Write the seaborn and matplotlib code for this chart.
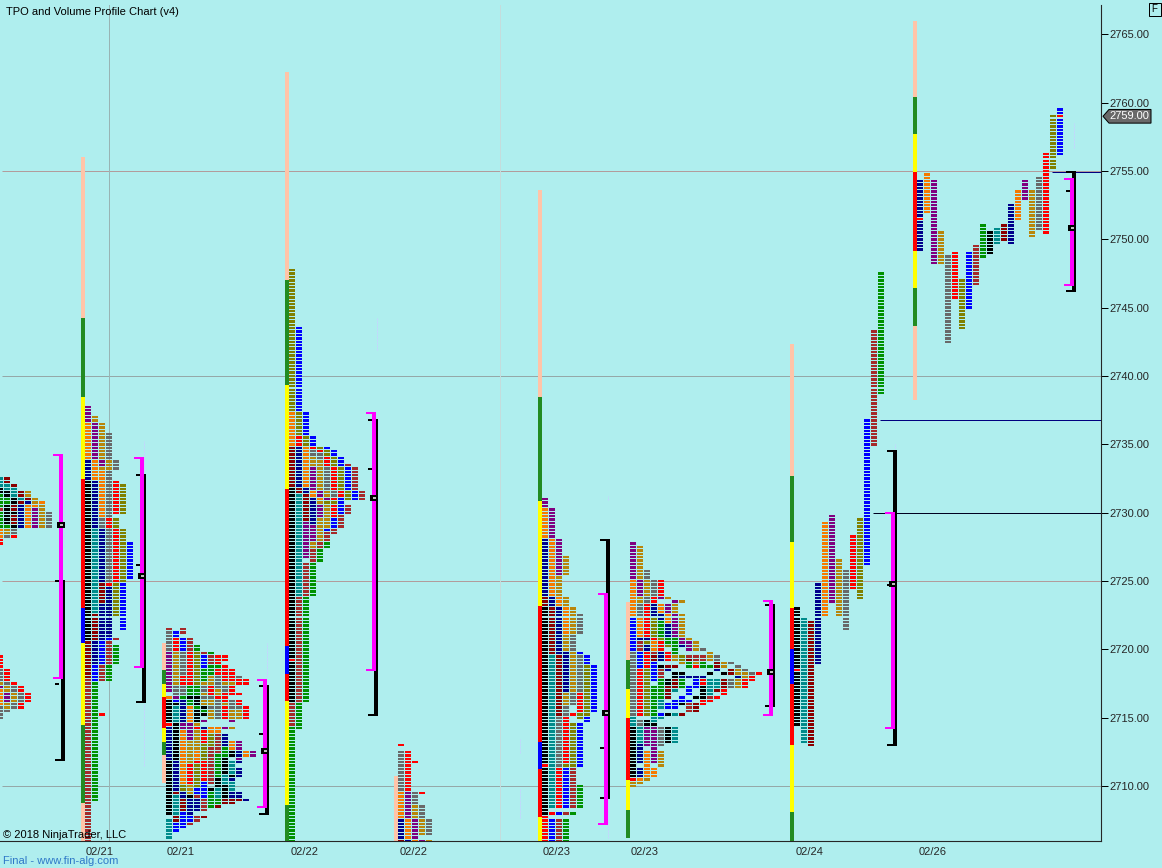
import numpy as np
import pandas as pd
import seaborn as sns
import matplotlib.pyplot as plt
from matplotlib.path import Path
from matplotlib.patches import Polygon, Rectangle

# Period letters -> colours
PERIOD_COLORS = {
    "k": "#000000", "t": "#008B8B", "m": "#8B0000", "n": "#00008B", "b": "#0000FF",
    "r": "#FF0000", "g": "#009100", "w": "#A52A2A", "o": "#808000", "a": "#F57A00",
    "p": "#800080", "d": "#B8860B", "y": "#696969",
}
BAR_COLORS = {"s": "#FFC4A8", "f": "#228B22", "l": "#FFFF00", "r": "#FF0000", "b": "#0000FF"}

# Each column is a list of (period, high, low) or (period, price)
PROFILE_A = [
    [("t", 2732.5, 2732), ("k", 2731.75, 2731.5), ("g", 2731.25, 2730.5), ("w", 2730.25), ("g", 2730, 2729), ("a", 2728.75, 2728.25), ("r", 2728, 2727.75)],
    [("m", 2732.5, 2732.25), ("t", 2732, 2731.75), ("k", 2731.5, 2731.25), ("g", 2731, 2730.75), ("k", 2730.5, 2729.25), ("g", 2729), ("d", 2728.75, 2728.5), ("y", 2728.25)],
    [("m", 2732), ("t", 2731.75, 2731.25), ("k", 2731, 2730.75), ("m", 2730.5, 2730.25), ("k", 2730), ("m", 2729.75, 2729.25), ("k", 2729), ("y", 2728.75, 2728.5), ("r", 2728.25)],
    [("m", 2731.5, 2731.25), ("t", 2731), ("m", 2730.75), ("n", 2730.5, 2729)],
    [("d", 2731.5, 2731.25), ("m", 2731), ("n", 2730.75), ("a", 2730.5, 2729)],
    [("d", 2731, 2730.75), ("a", 2730.5), ("p", 2730.25, 2729)],
    [("a", 2730.75), ("d", 2730.5, 2729)],
    [("y", 2730, 2729)],
]
PROFILE_A2 = [
    [("r", 2719.5, 2718.75), ("y", 2718.5, 2717.75), ("d", 2717.5), ("p", 2717.25), ("a", 2717, 2716), ("y", 2715.75, 2715)],
    [("r", 2718.5, 2717.75), ("y", 2717.5), ("d", 2717.25, 2717), ("p", 2716.75, 2716.25), ("d", 2716, 2715.75), ("y", 2715.5)],
    [("r", 2717.5), ("y", 2717.25, 2717), ("d", 2716.75, 2716.25), ("y", 2716, 2715.75)],
    [("r", 2717.25, 2717), ("y", 2716.75, 2716.25), ("r", 2716, 2715.75)],
    [("r", 2716.75, 2716.25)],
]
PROFILE_B = [
    [("p", 2737.75, 2736.75), ("a", 2736.5, 2734), ("n", 2733.75, 2732.5), ("k", 2732.25, 2720.75), ("m", 2720.5, 2718), ("w", 2717.75, 2706)],
    [("d", 2737, 2736.75), ("p", 2736.5, 2734), ("a", 2733.75, 2732.5), ("n", 2732.25, 2729), ("t", 2728.75, 2722.75), ("m", 2722.5, 2720.75), ("n", 2720.5, 2719), ("b", 2718.75, 2717.75), ("g", 2717.5, 2709)],
    [("d", 2736.5, 2734), ("p", 2733.75, 2733.5), ("d", 2733.25), ("a", 2733, 2729.75), ("y", 2729.5, 2729), ("n", 2728.75, 2725), ("m", 2724.75, 2723.5), ("n", 2723.25, 2720.75), ("b", 2720.5, 2719), ("w", 2718.75, 2717.75), ("r", 2715.25)],
    [("y", 2735.75, 2734), ("d", 2733.75, 2733.25), ("y", 2733, 2729.75), ("r", 2729.5, 2729), ("y", 2728.75, 2725), ("r", 2724.75), ("n", 2724.5, 2721), ("b", 2720.75), ("w", 2720.5, 2719), ("g", 2718.75, 2717.75)],
    [("y", 2733.75, 2733.25), ("r", 2732.25, 2730), ("o", 2729.5, 2729), ("r", 2728.75, 2725), ("o", 2724.75, 2722.5), ("w", 2720.75), ("g", 2720.25, 2719)],
    [("o", 2732, 2730), ("o", 2728.75, 2725), ("b", 2724.75, 2721.5)],
    [("b", 2727.75, 2725.25)],
]
PROFILE_C = [
    [("w", 2721.5), ("y", 2721.25, 2720), ("p", 2719.75, 2717), ("a", 2716.5), ("k", 2716.25, 2714.75), ("r", 2714.5), ("n", 2714.25, 2712), ("k", 2711.75, 2708), ("t", 2707.5, 2706.25)],
    [("b", 2721.25, 2721), ("r", 2720.75, 2720), ("d", 2719.75, 2717.5), ("y", 2717.25, 2716.75), ("p", 2716.5), ("b", 2716.25), ("k", 2716), ("t", 2715.75, 2714.75), ("k", 2714.5, 2712), ("n", 2711.75, 2709.75), ("m", 2709.5), ("t", 2709.25, 2708), ("m", 2707.75, 2707.5), ("b", 2707.25, 2706.75)],
    [("w", 2721.5, 2721.25), ("b", 2720.75, 2720), ("y", 2719.75, 2718.25), ("r", 2718, 2717.5), ("y", 2717.25, 2716.75), ("g", 2716.5), ("n", 2716.25, 2714.75), ("p", 2714.5, 2714.25), ("a", 2714, 2712), ("a", 2711.75, 2710.25), ("o", 2710, 2709.75), ("n", 2709.5, 2709.25), ("m", 2709, 2708.25), ("b", 2708, 2707)],
    [("w", 2720.75, 2720), ("r", 2719.75, 2717.5), ("g", 2717.25, 2716.75), ("k", 2716.5), ("g", 2716.25, 2716), ("a", 2715.75, 2714.75), ("p", 2714.5, 2713.5), ("d", 2713.25, 2711.75), ("r", 2711.5, 2710.25), ("d", 2710, 2709.5), ("k", 2709.25), ("n", 2709, 2708), ("b", 2707.75, 2707.5), ("w", 2707.25)],
    [("g", 2720.25, 2720), ("o", 2719.75, 2717.5), ("g", 2717.25, 2716.75), ("k", 2716.5, 2716), ("g", 2715.75), ("k", 2715.5, 2714.75), ("d", 2714.5), ("r", 2714.25), ("d", 2714, 2712.75), ("a", 2712.5, 2712), ("r", 2711.75), ("o", 2711.5, 2710), ("b", 2709.75, 2709.5), ("w", 2709.25), ("n", 2709, 2708.25), ("w", 2707.75, 2707.5)],
    [("w", 2719.75), ("b", 2719.5, 2718.75), ("g", 2718.5, 2717.75), ("d", 2717.5), ("y", 2717.25, 2717), ("d", 2716.75), ("y", 2716.5), ("d", 2716.25, 2716), ("k", 2715.75), ("g", 2715.5), ("k", 2715.25), ("p", 2714.75), ("n", 2714.25), ("r", 2714, 2713.25), ("o", 2713, 2712), ("r", 2711.75, 2710.5), ("b", 2710.25, 2709.25), ("w", 2709, 2708.25), ("m", 2707.75)],
    [("g", 2719.75), ("w", 2719.5, 2719), ("g", 2718.75, 2718.25), ("d", 2718, 2717.5), ("r", 2717.25, 2716.75), ("y", 2716.5), ("d", 2716.25, 2716), ("y", 2715.75), ("d", 2715.5, 2715), ("a", 2714.25, 2714), ("o", 2713.75, 2713), ("w", 2712.75, 2712), ("w", 2711.75, 2710.25), ("k", 2709.75), ("g", 2709.5, 2708.5)],
    [("r", 2719.5, 2719), ("g", 2718.75), ("r", 2718.5, 2718.25), ("y", 2718, 2717.25), ("d", 2717, 2716.75), ("r", 2716.5), ("y", 2716.25, 2715), ("a", 2714.25, 2714), ("w", 2713.75, 2712.5), ("g", 2712.25, 2710.75), ("k", 2710.5, 2710), ("t", 2709.75, 2709.25), ("g", 2709, 2708.75), ("m", 2708.5)],
    [("r", 2719.5, 2719.25), ("r", 2718.75, 2717.75), ("d", 2717.5), ("y", 2717.25, 2717), ("r", 2716.75, 2716.25), ("d", 2716), ("r", 2715.75, 2715), ("p", 2714.25), ("n", 2713.75, 2713), ("g", 2712.75, 2712.25), ("k", 2712, 2711), ("t", 2710.75, 2710.25), ("k", 2710, 2709.25), ("m", 2709, 2708.75)],
    [("r", 2718.5, 2717.75), ("d", 2717.5), ("r", 2717.25, 2716.75), ("y", 2716.25, 2715.75), ("d", 2715.5, 2715), ("p", 2714.75), ("d", 2714.25), ("a", 2713.25, 2712.75), ("k", 2712.5, 2712.25), ("t", 2711.75, 2711), ("k", 2710.75), ("n", 2710.5), ("t", 2710.25, 2709.75), ("n", 2709.5, 2709.25), ("m", 2709, 2708.75)],
    [("y", 2718), ("r", 2717.75, 2717.5), ("r", 2716.75), ("r", 2716.25, 2716), ("y", 2715.75), ("d", 2715.5, 2715), ("p", 2713.25, 2712.75), ("n", 2712.5, 2712.25), ("p", 2712), ("n", 2711.75), ("n", 2711.25, 2710.75), ("n", 2709.5, 2709.25), ("m", 2709)],
    [("r", 2717.75, 2717.5), ("r", 2715.75, 2715), ("a", 2712.5, 2712.25), ("n", 2709)],
    [("p", 2712.5, 2712.25)],
]
PROFILE_D = [
    [("o", 2747.75, 2737.5), ("a", 2737.25, 2735), ("m", 2734.75, 2732), ("k", 2731.75, 2716.25), ("r", 2719.25), ("w", 2716, 2714.5), ("g", 2714.25, 2706)],
    [("b", 2743.5, 2737.5), ("o", 2737.25, 2735.75), ("r", 2735.5, 2735), ("n", 2734.75, 2732), ("m", 2731.75, 2731.5), ("t", 2731.25, 2724), ("w", 2723.75, 2716.25), ("g", 2716, 2714.25)],
    [("b", 2737.25, 2735.75), ("o", 2735.5, 2735), ("a", 2734.75, 2732), ("n", 2731.75, 2731.5), ("m", 2731.25, 2729.5), ("p", 2729.25, 2726.75), ("w", 2726.25, 2724), ("g", 2723.75, 2716.25)],
    [("b", 2735.5, 2735), ("r", 2734.75), ("y", 2734.5, 2734.25), ("d", 2734, 2733.5), ("p", 2733.25, 2731.75), ("a", 2731.5, 2731.25), ("n", 2731, 2729.25), ("p", 2729, 2728), ("d", 2727.75, 2727.5), ("w", 2727.25, 2726.5), ("g", 2726.25, 2724)],
    [("o", 2734.75), ("r", 2734.5), ("y", 2734.25, 2734), ("d", 2733.75, 2731.75), ("p", 2731.5, 2731.25), ("a", 2731), ("d", 2730.75), ("p", 2730.5, 2729.75), ("d", 2729.5, 2728), ("w", 2727.75, 2727.5), ("g", 2727.25, 2726.5)],
    [("b", 2734.75), ("o", 2734.5, 2734.25), ("r", 2734, 2733.5), ("y", 2733.25, 2731.75), ("d", 2731.5, 2731.25), ("p", 2731), ("o", 2730.75), ("d", 2730.5, 2729), ("b", 2728.75), ("w", 2728.5, 2728), ("g", 2727.75, 2727.5)],
    [("b", 2734.5, 2734.25), ("o", 2734, 2733.5), ("r", 2733.25, 2731.75), ("y", 2731.5, 2731.25), ("r", 2731), ("o", 2730.75), ("r", 2730.5, 2729.75), ("b", 2729.5, 2729), ("w", 2728.75, 2728.5)],
    [("b", 2734, 2733.5), ("o", 2733.25, 2731.75), ("r", 2731.5, 2731.25), ("b", 2731, 2730), ("w", 2729.75, 2729)],
    [("w", 2733.5), ("b", 2733.25, 2731.75), ("o", 2731.5, 2731), ("w", 2730.5, 2730)],
    [("w", 2733.25, 2731.75), ("b", 2731.5, 2731)],
    [("w", 2731.5, 2731)],
]
PROFILE_E = [
    [("r", 2713), ("y", 2712.5, 2709.75), ("a", 2709.5, 2707.75), ("n", 2707.5, 2706.25), ("m", 2706)],
    [("r", 2712.5, 2709.75), ("p", 2709.5, 2707.75), ("a", 2707.5, 2706.25), ("n", 2706)],
    [("r", 2711.75), ("y", 2709.5, 2708.75), ("d", 2708.5, 2707.75), ("p", 2707.5, 2706.25), ("a", 2706)],
    [("r", 2709.5), ("y", 2708.5, 2707.75), ("d", 2707.5, 2706.5), ("p", 2706)],
    [("y", 2707.5, 2706.5), ("d", 2706)],
]
PROFILE_F = [
    [("p", 2731, 2730.5), ("a", 2730.25, 2728.25), ("n", 2728, 2724), ("m", 2723.75, 2723.25), ("k", 2723, 2708), ("r", 2711.5), ("r", 2707.75, 2706)],
    [("p", 2730.25, 2728.25), ("a", 2728, 2724), ("n", 2723.75, 2723.25), ("m", 2723, 2719.75), ("t", 2719.5, 2708.5), ("r", 2708), ("b", 2707.5, 2706)],
    [("p", 2728, 2725.5), ("d", 2725.25, 2724), ("a", 2723.75, 2723.25), ("n", 2723, 2719.75), ("m", 2719.5, 2715.25), ("y", 2715, 2711.5), ("r", 2711.25, 2708.5), ("b", 2708), ("w", 2707.5, 2706)],
    [("d", 2726.75, 2725.5), ("d", 2723.75, 2723.25), ("a", 2723, 2721.25), ("d", 2721, 2720), ("n", 2719.75, 2717), ("d", 2716.75, 2716), ("y", 2715.75, 2715.25), ("r", 2715, 2711.75), ("o", 2711.5), ("b", 2711.25, 2708.5), ("w", 2708), ("g", 2707.5, 2706)],
    [("d", 2723, 2721.25), ("y", 2721, 2720), ("d", 2719.75, 2717), ("y", 2716.75, 2716), ("r", 2715.25), ("o", 2714.5, 2711.5), ("w", 2711.25, 2708.5), ("g", 2708)],
    [("y", 2722.5, 2721.25), ("b", 2719.75), ("y", 2719.5, 2717), ("r", 2716.75, 2715.5), ("o", 2715.25, 2715), ("b", 2714.5, 2711.5), ("g", 2710, 2708.5)],
    [("b", 2719.5, 2719), ("o", 2718.75, 2717), ("o", 2716.75, 2715.25), ("b", 2715, 2714.75)],
    [("b", 2718.75, 2717), ("b", 2716.75, 2715.5)],
]
PROFILE_G = [
    [("p", 2727.75, 2725.25), ("a", 2725, 2722.5), ("b", 2722.25, 2720), ("y", 2719.75, 2715.25), ("t", 2715, 2714.5), ("k", 2714.25, 2710.75), ("r", 2710.5), ("d", 2710.25, 2710)],
    [("d", 2727.5, 2725.25), ("p", 2725, 2724), ("d", 2723.75, 2723.5), ("y", 2723.25, 2722.5), ("a", 2722.25, 2721), ("n", 2720.75), ("w", 2720.5, 2720), ("b", 2719.75, 2718.75), ("r", 2718.5, 2715.25), ("y", 2714.75, 2714.5), ("t", 2714.25, 2713.25), ("n", 2713, 2711.75), ("n", 2711.25, 2710.75), ("a", 2710.5), ("d", 2710.25)],
    [("y", 2725.75, 2725.25), ("d", 2725, 2724), ("y", 2723.75, 2723.5), ("r", 2723.25, 2721), ("n", 2720.75), ("o", 2720.5), ("n", 2720.25, 2720), ("r", 2719.75, 2718.75), ("o", 2718.5, 2715.25), ("k", 2714.75, 2714.5), ("p", 2714.25, 2713), ("a", 2712.5, 2710.75), ("d", 2710.5)],
    [("y", 2725, 2724), ("r", 2723.75, 2723.5), ("n", 2723.25, 2722.5), ("o", 2722.25, 2721), ("r", 2720.75), ("a", 2720.5, 2720), ("w", 2719.75), ("m", 2719.5, 2719.25), ("b", 2719, 2717.75), ("g", 2717.25, 2715.25), ("t", 2715, 2714.75), ("k", 2714.5), ("p", 2714.25, 2711.75), ("a", 2711.25, 2710.75)],
    [("r", 2725, 2724), ("p", 2723.75), ("a", 2723.25, 2722.75), ("n", 2722.5, 2722.25), ("g", 2722, 2721), ("o", 2720.75), ("r", 2720.5, 2720), ("n", 2719.75, 2719.25), ("k", 2718.75), ("w", 2718.5, 2718), ("g", 2717.75, 2716.5), ("t", 2716.25, 2715.75), ("b", 2715.25), ("t", 2715), ("y", 2714.25, 2713), ("d", 2712.5, 2711.5)],
    [("d", 2723.75), ("p", 2723.25, 2722.75), ("a", 2722.5, 2722), ("n", 2721.75, 2721), ("g", 2720.75, 2720.5), ("o", 2720.25), ("r", 2719.75, 2719.25), ("m", 2718.75), ("n", 2718.5), ("k", 2717.75, 2717.5), ("m", 2717.25, 2716.5), ("b", 2716, 2715.75), ("k", 2715.25), ("k", 2714.25, 2713.25)],
    [("p", 2723.5), ("d", 2723.25, 2722.75), ("p", 2722.5, 2721), ("g", 2720.75, 2719.75), ("d", 2719.5, 2719.25), ("m", 2718.75), ("k", 2718.25, 2718), ("m", 2717.75, 2717.25), ("t", 2717), ("b", 2716.25, 2715.75), ("t", 2715.25), ("t", 2714.25, 2713.25)],
    [("d", 2723.5), ("d", 2722.5, 2721), ("p", 2720.75, 2720.5), ("n", 2720.25), ("o", 2719.5, 2719.25), ("d", 2719), ("k", 2718.25), ("n", 2718), ("g", 2717.75, 2717.25), ("b", 2716.5, 2716.25), ("k", 2716), ("m", 2715.25)],
    [("d", 2720.75), ("p", 2720.5, 2720), ("w", 2719.5), ("m", 2719.25), ("g", 2719, 2718.75), ("n", 2718), ("b", 2717.25, 2716.75), ("b", 2716.25), ("w", 2716, 2715.5)],
    [("d", 2720.5, 2720), ("w", 2719.5, 2719.25), ("d", 2719), ("r", 2718.75), ("n", 2718), ("b", 2717.75, 2717.25), ("k", 2716.5), ("m", 2716, 2715.5)],
    [("y", 2720), ("w", 2719.5, 2719.25), ("g", 2719, 2718.75), ("n", 2718), ("r", 2717.75, 2717.5), ("k", 2717.25, 2716.5), ("r", 2716.25, 2716)],
    [("d", 2719.75, 2719.25), ("g", 2718.75), ("k", 2718.25), ("t", 2717.75, 2716.75), ("w", 2716.5), ("r", 2716.25)],
    [("y", 2719.5, 2719.25), ("m", 2719, 2718.75), ("n", 2718.5), ("t", 2717.75, 2717.25), ("m", 2717), ("r", 2716.5)],
    [("d", 2719, 2718.75), ("k", 2718.25), ("m", 2717.75, 2717.25), ("r", 2717, 2716.75)],
    [("y", 2719), ("m", 2718.5, 2718.25), ("y", 2717.75, 2717.25)],
    [("y", 2718.75), ("d", 2718.5, 2718.25), ("n", 2718), ("d", 2717.75, 2717.25)],
    [("y", 2718.5), ("d", 2718.25, 2718), ("r", 2717.75, 2717.25)],
    [("y", 2718.25), ("r", 2718, 2717.75)],
    [("r", 2718.25)],
]
PROFILE_H = [
    [("k", 2723, 2714.5), ("r", 2718.5)],
    [("t", 2722.25, 2713.25)],
    [("m", 2722, 2713)],
    [("n", 2724.75, 2719)],
    [("a", 2729.25, 2722.5)],
    [("p", 2729.75, 2723.5)],
    [("d", 2726.5, 2722.5)],
    [("y", 2725.75, 2721.5)],
    [("r", 2728.25, 2724.5)],
    [("o", 2729.5, 2723.75)],
    [("b", 2736.75, 2726.25)],
    [("w", 2743.25, 2735)],
    [("g", 2747.5, 2738.75)],
]
PROFILE_I = [
    [("n", 2754.25, 2749.25), ("r", 2751.5)],
    [("a", 2754.75, 2752)],
    [("p", 2754.25, 2748.25)],
    [("d", 2750.5, 2748.25)],
    [("y", 2748.75, 2742.5)],
    [("r", 2749, 2745.75)],
    [("o", 2747, 2743.5)],
    [("b", 2749, 2745)],
    [("w", 2749.5, 2746.75)],
    [("g", 2751, 2748.75)],
    [("k", 2750.5, 2749)],
    [("t", 2750.75, 2749.75)],
    [("m", 2751, 2750)],
    [("n", 2752.5, 2749.75)],
    [("a", 2753.5, 2751.5)],
    [("p", 2754.25, 2753)],
    [("d", 2753.5, 2750.25)],
    [("y", 2754.5, 2750.75)],
    [("r", 2756.25, 2750.5)],
    [("o", 2759, 2755.25)],
    [("b", 2759.5, 2756.25), ("r", 2759)],
]

# session price bars: (colour key, high, low)
BAR_B = [("s", 2756, 2744.25), ("f", 2744.25, 2738.5), ("l", 2738.5, 2732.5), ("r", 2732.5, 2723), ("b", 2723, 2720.5), ("l", 2720.5, 2714.5), ("f", 2714.5, 2708.75), ("s", 2708.75, 2706)]
BAR_C = [("s", 2720.5, 2718.5), ("f", 2718.5, 2717.5), ("l", 2717.5, 2716.5), ("r", 2716.5, 2714.25), ("l", 2714.25, 2713.25), ("f", 2713.25, 2712.25), ("s", 2712.25, 2710.25)]
BAR_D = [("s", 2762.25, 2747), ("f", 2747, 2739.35), ("l", 2739.35, 2731.75), ("r", 2731.75, 2720.25), ("b", 2720.25, 2718.2), ("r", 2718.2, 2716.25), ("l", 2716.25, 2708.6), ("f", 2708.6, 2706)]
BAR_E = [("s", 2710.75, 2706)]
BAR_F = [("s", 2753.6, 2738.5), ("f", 2738.5, 2730.85), ("l", 2730.85, 2723.2), ("r", 2723.2, 2713.25), ("b", 2713.25, 2711.25), ("r", 2711.25, 2707.75), ("l", 2707.75, 2706)]
BAR_G = [("s", 2723.45, 2719.25), ("f", 2719.25, 2717.1), ("l", 2717.1, 2715), ("r", 2715, 2710.45), ("l", 2710.45, 2708.25), ("f", 2708.25, 2706.2)]
BAR_H = [("s", 2742.35, 2732.7), ("f", 2732.7, 2727.85), ("l", 2727.85, 2723), ("r", 2723, 2720), ("b", 2720, 2717.5), ("r", 2717.5, 2713), ("l", 2713, 2708.1), ("f", 2708.1, 2706)]
BAR_I = [("s", 2766, 2760.4), ("f", 2760.4, 2757.7), ("l", 2757.7, 2754.9), ("r", 2754.9, 2749.15), ("l", 2749.15, 2746.45), ("f", 2746.45, 2743.65), ("s", 2743.65, 2738.25)]

PROFILES = [PROFILE_A, PROFILE_A2, PROFILE_B, PROFILE_C, PROFILE_D, PROFILE_E, PROFILE_F, PROFILE_G, PROFILE_H, PROFILE_I]
PROFILE_X = [-3, -3, 85, 166, 289, 398, 542, 630, 794, 917]
BARS = [None, None, BAR_B, BAR_C, BAR_D, BAR_E, BAR_F, BAR_G, BAR_H, BAR_I]

# value area (magenta) and range (black) brackets
BRACKET_X = [59, 140, 263, 372, 604, 769, 891, 1070]
VA_HIGH = [2734.25, 2734, 2717.75, 2737.3, 2724.05, 2723.55, 2730, 2754.4]
VA_LOW = [2717.9, 2718.7, 2708.5, 2718.5, 2707.25, 2715.2, 2714.25, 2746.65]
RANGE_HIGH = [2725, 2732.75, 2717.3, 2736.8, 2728, 2723.25, 2734.5, 2754.9]
RANGE_LOW = [2711.9, 2716.15, 2708, 2715.2, 2709.1, 2715.85, 2713, 2746.2]
MID_TICK = [2717.5, 2726.2, 2713.8, 2733.2, 2712.8, 2715.9, 2724.7, 2753.5]
POC = [2729.1, 2725.35, 2712.6, 2731.1, 2715.35, 2718.35, 2724.8, 2750.8]

# faint volume wicks: x, high, low
WICK_X = [64, 144, 144, 267, 377, 520, 520, 608, 608, 895, 1074]
WICK_HIGH = [2731, 2735.25, 2716, 2720.5, 2744.25, 2713.5, 2709.9, 2711, 2731.2, 2735, 2758.5]
WICK_LOW = [2727.5, 2733, 2711.5, 2718, 2741.9, 2712.4, 2707.7, 2706.2, 2730.9, 2734.7, 2756.7]

# naked levels: price, start x, colour
LEVEL_PRICE = [2736.75, 2730, 2754.9]
LEVEL_START = [880, 873, 1052]
LEVEL_COLOR = ["#000080", "#000020", "#000080"]

GRID_PRICES = [2755, 2740, 2725, 2710]
GRID_COLORS = ["#B29C9C", "#95A8A8", "#B29C9C", "#95A8A8"]
V_LINES = [109, 500]
V_COLORS = ["#98B4B4", "#C4DCDC"]

PRICE_TICKS = [2710, 2715, 2720, 2725, 2730, 2735, 2740, 2745, 2750, 2755, 2760, 2765]
DATE_X = [100, 181, 305, 414, 557, 645, 810, 933]
DATE_LABELS = ["02/21", "02/21", "02/22", "02/22", "02/23", "02/23", "02/24", "02/26"]
LAST_PRICE = 2759

BG = "#AFEEEE"
FS = 8.0
sns.set_style("ticks", {"axes.facecolor": BG, "figure.facecolor": BG})
plt.rcParams["font.family"] = ["Liberation Sans", "DejaVu Sans"]


def px(n):
    return n * 72 / 100


# expand the columns into one row per 0.25 tick
rows = []
for base, profile in zip(PROFILE_X, PROFILES):
    for i, col in enumerate(profile):
        for seg in col:
            hi = seg[1]
            lo = seg[2] if len(seg) > 2 else hi
            for price in np.arange(hi, lo - 0.01, -0.25):
                rows.append((base + i * 7 + 3, price, seg[0]))
df = pd.DataFrame(rows, columns=["x", "price", "period"])

fig = plt.figure(figsize=(11.62, 8.68), dpi=100)
ax = fig.add_axes([0, 27 / 868, 1101 / 1162, 836 / 868])

for p, c in zip(GRID_PRICES, GRID_COLORS):
    ax.hlines(p, 2, 1101, color=c, lw=px(1), zorder=1)
for x, c in zip(V_LINES, V_COLORS):
    ax.vlines(x, 2705, 2768, color=c, lw=px(1), zorder=1)
for p, s, c in zip(LEVEL_PRICE, LEVEL_START, LEVEL_COLOR):
    ax.hlines(p, s, 1101, color=c, lw=px(1), zorder=1.5)
ax.vlines(WICK_X, WICK_LOW, WICK_HIGH, color="#C4D4FF", lw=px(1), linestyles=(0, (2, 1)), zorder=1.5)

# session bars on the left of each profile
for base, bar in zip(PROFILE_X, BARS):
    if bar is None:
        continue
    for key, hi, lo in bar:
        ax.bar(base - 4, hi - lo, bottom=lo, width=4, align="edge", color=BAR_COLORS[key], linewidth=0, zorder=2)

# tpo rows: a flat rectangle marker, 6px wide
row_marker = Path([(-1, -0.4), (1, -0.4), (1, 0.4), (-1, 0.4), (-1, -0.4)], closed=True)
sns.scatterplot(
    data=df, x="x", y="price", hue="period", palette=PERIOD_COLORS,
    marker=row_marker, s=18.66, linewidth=0, edgecolor="none", legend=False, ax=ax, zorder=3,
)

# brackets
for i, x in enumerate(BRACKET_X):
    ax.vlines(x + 4, RANGE_LOW[i], RANGE_HIGH[i], color="black", lw=px(4), zorder=4)
    ax.hlines([RANGE_HIGH[i], RANGE_LOW[i]], x - 4, x + 6, color="black", lw=px(2), zorder=4)
    ax.hlines(MID_TICK[i], x - 4, x, color="black", lw=px(2), zorder=4)
    ax.vlines(x + 2, VA_LOW[i], VA_HIGH[i], color="#FF00FF", lw=px(4), zorder=5)
    ax.hlines([VA_HIGH[i], VA_LOW[i]], x - 6, x + 4, color="#FF00FF", lw=px(2), zorder=5)
    ax.hlines(POC[i], x - 2, x + 6, color="black", lw=px(6), zorder=6)
    ax.hlines(POC[i], x + 1, x + 4, color="white", lw=px(1.5), zorder=7)

ax.set_xlim(0, 1101)
ax.set_ylim(2705.99, 2767.14)
ax.set_xlabel("")
ax.set_ylabel("")
sns.despine(ax=ax, left=True, right=False, top=True, bottom=False)
ax.yaxis.tick_right()
ax.set_yticks(PRICE_TICKS, [f"{p:.2f}" for p in PRICE_TICKS])
ax.set_xticks(DATE_X, DATE_LABELS)
ax.tick_params(axis="y", length=5, width=px(1), pad=1, labelsize=FS, color="black")
ax.tick_params(axis="x", length=0, pad=4.5, labelsize=FS)

# last price tag
tag_y = [LAST_PRICE + 0.5, LAST_PRICE + 0.5, LAST_PRICE - 0.5, LAST_PRICE - 0.5, LAST_PRICE]
tag = Polygon(list(zip([1109, 1151, 1151, 1109, 1103], tag_y)), closed=True,
              facecolor="#696969", edgecolor="black", lw=px(1), clip_on=False, zorder=8)
ax.add_patch(tag)
ax.text(1129.5, LAST_PRICE, "2759.00", color="white", fontsize=FS, ha="center", va="center", clip_on=False, zorder=9)

fig.text(6 / 1162, 1 - 12 / 868, "TPO and Volume Profile Chart (v4)", fontsize=FS, va="center", ha="left", color="black")
fig.text(3 / 1162, 1 - 835 / 868, "\u00a9 2018 NinjaTrader, LLC", fontsize=FS, va="center", ha="left", color="black", zorder=10)
fig.text(3 / 1162, 1 - 861 / 868, "Final - www.fin-alg.com", fontsize=FS, va="center", ha="left", color="#2E78C8")
fig.add_artist(Rectangle((1148.5 / 1162, 1 - 15.5 / 868), 12 / 1162, 12 / 868, transform=fig.transFigure,
                         facecolor="none", edgecolor="black", lw=px(1)))
fig.text(1154.5 / 1162, 1 - 9.5 / 868, "F", fontsize=7, va="center", ha="center", color="black")

fig.savefig("out.png", dpi=100, facecolor=BG)
